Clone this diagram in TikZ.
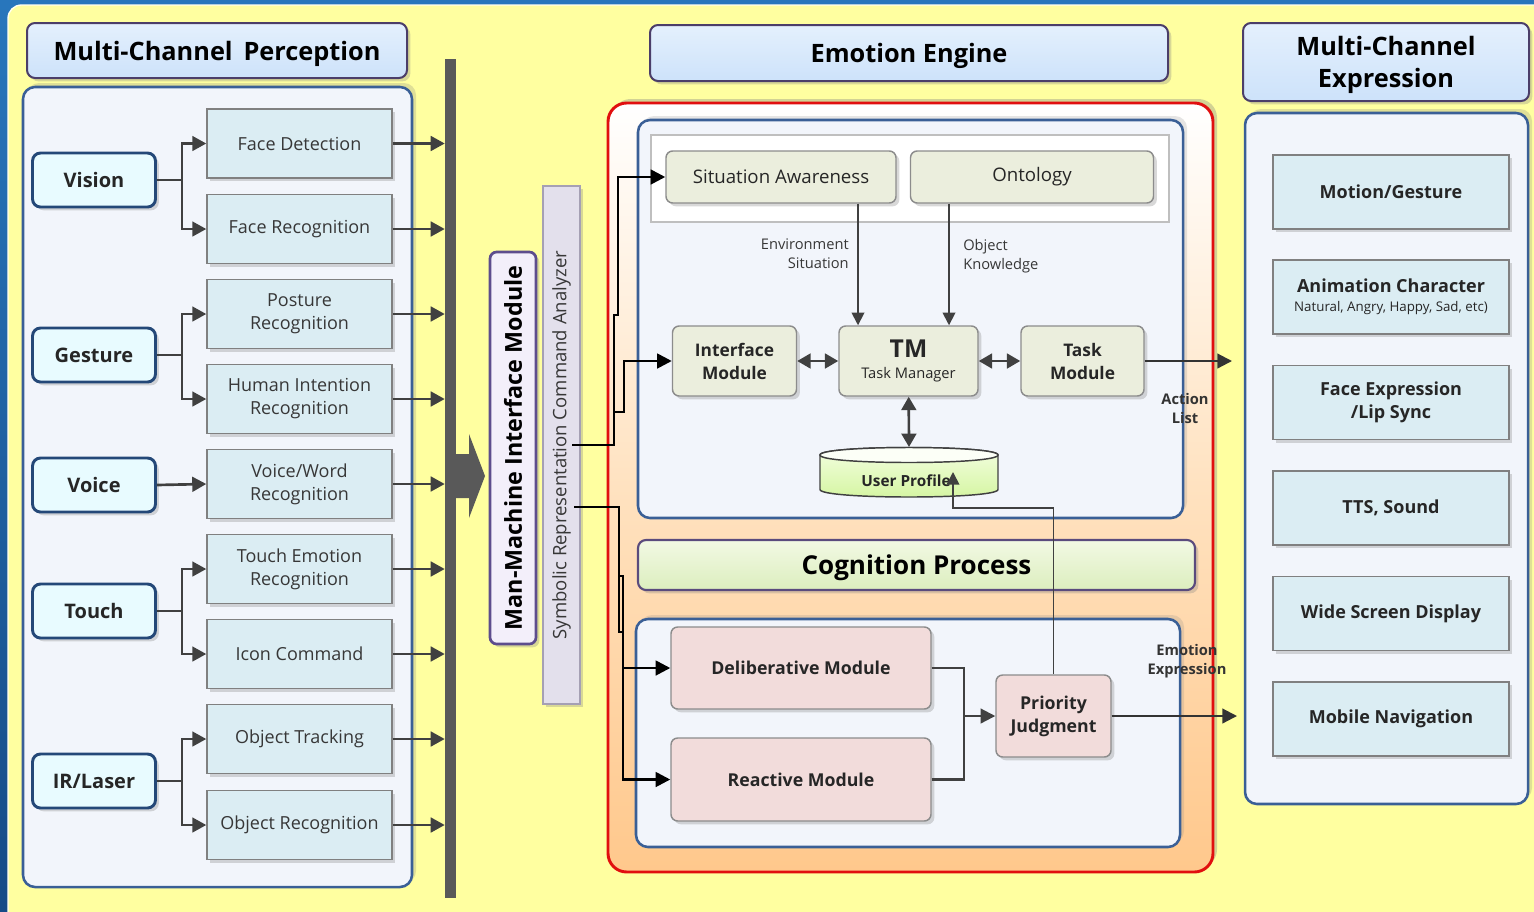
\documentclass[tikz,border=0pt]{standalone}
\usepackage{fontspec}
\setmainfont{Open Sans}
\usepackage{tikz}
\usetikzlibrary{arrows.meta,shadows}

\definecolor{frameblue}{RGB}{40,118,188}
\definecolor{framedark}{RGB}{22,75,135}
\definecolor{bgyellow}{RGB}{255,255,160}
\definecolor{panelfill}{RGB}{242,245,251}
\definecolor{panelline}{RGB}{58,95,150}
\definecolor{titlefill}{RGB}{205,226,250}
\definecolor{titletop}{RGB}{228,240,253}
\definecolor{titleline}{RGB}{75,62,105}
\definecolor{srcfill}{RGB}{232,251,255}
\definecolor{srcline}{RGB}{36,72,120}
\definecolor{recfill}{RGB}{219,237,243}
\definecolor{recline}{RGB}{128,128,128}
\definecolor{connline}{RGB}{64,64,64}
\definecolor{busgray}{RGB}{89,89,89}
\definecolor{mmifill}{RGB}{243,239,250}
\definecolor{mmiline}{RGB}{93,77,141}
\definecolor{symfill}{RGB}{227,224,236}
\definecolor{symline}{RGB}{165,160,180}
\definecolor{enginered}{RGB}{225,15,15}
\definecolor{engpeach}{RGB}{255,226,192}
\definecolor{engorange}{RGB}{255,200,140}
\definecolor{modfill}{RGB}{235,238,221}
\definecolor{modline}{RGB}{140,140,140}
\definecolor{pinkfill}{RGB}{242,220,219}
\definecolor{cogtop}{RGB}{242,249,228}
\definecolor{cogfill}{RGB}{220,238,190}
\definecolor{cogline}{RGB}{90,75,125}
\definecolor{uptopcol}{RGB}{245,255,228}
\definecolor{upfill}{RGB}{212,245,160}
\definecolor{txtgray}{RGB}{55,55,55}

\newcommand{\fntTitle}{\fontsize{19}{24}\selectfont\bfseries}
\newcommand{\fntEng}{\fontsize{19}{22}\selectfont\bfseries}
\newcommand{\fntSrc}{\fontsize{15}{18}\selectfont\bfseries}
\newcommand{\fntRec}{\fontsize{13.5}{17.25}\selectfont}
\newcommand{\fntMod}{\fontsize{13}{17.25}\selectfont\bfseries}
\newcommand{\fntOut}{\fontsize{13.5}{17.25}\selectfont\bfseries}
\newcommand{\fntLbl}{\fontsize{11}{14.25}\selectfont}
\newcommand{\fntBLbl}{\fontsize{11}{14.25}\selectfont\bfseries}
\newcommand{\fntSmall}{\fontsize{10}{12}\selectfont\mdseries}

\begin{document}
\begin{tikzpicture}[x=0.75pt,y=0.75pt,yscale=-1,xscale=1,
    softshadow/.style={drop shadow={shadow xshift=2.5pt,shadow yshift=-2.5pt,opacity=0.3}},
    titlebox/.style={draw=titleline,line width=1.5pt,rounded corners=6pt,top color=titletop,bottom color=titlefill,align=center,font=\fntTitle,text depth=0pt,softshadow},
    panel/.style={draw=panelline,line width=1.9pt,fill=panelfill,rounded corners=9pt},
    srcbox/.style={draw=srcline,line width=2.2pt,fill=srcfill,rounded corners=6pt,minimum width=92.25pt,minimum height=40.5pt,inner sep=0pt,font=\fntSrc,text=black!85,softshadow},
    recbox/.style={draw=recline,line width=1.1pt,fill=recfill,minimum width=138.75pt,minimum height=51.75pt,inner sep=0pt,align=center,font=\fntRec,text=txtgray,softshadow},
    outbox/.style={draw=recline,line width=1.1pt,fill=recfill,minimum width=177pt,minimum height=55.5pt,inner sep=0pt,align=center,font=\fntOut,text=black!85,softshadow},
    modbox/.style={draw=modline,line width=1.1pt,fill=modfill,rounded corners=5pt,minimum height=52.5pt,inner sep=0pt,align=center,font=\fntMod,text=black!85,softshadow},
    pinkbox/.style={modbox,fill=pinkfill},
    branch/.style={draw=connline,line width=2pt,-{Triangle[length=10.5pt,width=11pt]}},
    dblarrow/.style={draw=connline,line width=2pt,{Triangle[length=10pt,width=11pt]}-{Triangle[length=10pt,width=11pt]}},
    thinarrow/.style={draw=connline,line width=1.3pt,-{Triangle[length=9.5pt,width=9.5pt]}},
    symarrow/.style={draw=black,line width=2pt,-{Triangle[length=11pt,width=11pt]}},
    outarrow/.style={draw=black!80,line width=1.6pt,-{Triangle[length=11pt,width=11pt]}},
    lbl/.style={font=\fntLbl,text=txtgray,inner sep=0pt},
    boldlbl/.style={font=\fntBLbl,text=black!80,align=center,inner sep=0pt}]

    \useasboundingbox (0,0) rectangle (1534,911);

    %Shape: Background [id:frame]
    \shade[top color=frameblue,bottom color=framedark] (0,0) rectangle (1534,911);
    \draw[fill=bgyellow,draw=white!85!bgyellow,line width=1pt,rounded corners=10pt] (8,5) rectangle (1560,930);

    %Shape: Rectangle [id:panels]
    \draw[panel,drop shadow={shadow xshift=3pt,shadow yshift=3pt,opacity=0.25}] (23,87) rectangle (412,887);
    \draw[panel,drop shadow={shadow xshift=3pt,shadow yshift=3pt,opacity=0.25}] (1245,113) rectangle (1528,804);

    % Text Node
    \node[titlebox,minimum width=285pt,minimum height=41.25pt] (pertitle) at (217,50.5) {Multi-Channel\ \,Perception};
    \node[titlebox,font=\fntEng,minimum width=388.5pt,minimum height=42pt] (engtitle) at (909,53) {Emotion Engine};
    \node[titlebox,minimum width=214.5pt,minimum height=58.5pt] (exptitle) at (1386,62) {Multi-Channel\\Expression};

    % Text Node
    \node[srcbox] (vision) at (94,180) {Vision};
    \node[srcbox] (gesture) at (94,355) {Gesture};
    \node[srcbox] (voice) at (94,485) {Voice};
    \node[srcbox] (touch) at (94,611) {Touch};
    \node[srcbox] (irlaser) at (94,781) {IR/Laser};

    % Text Node
    \node[recbox] (facedet) at (299.5,143.5) {Face Detection};
    \node[recbox] (facerec) at (299.5,229) {Face Recognition};
    \node[recbox] (posture) at (299.5,314) {Posture\\Recognition};
    \node[recbox] (intention) at (299.5,399) {Human Intention\\Recognition};
    \node[recbox] (voiceword) at (299.5,484) {Voice/Word\\Recognition};
    \node[recbox] (touchemo) at (299.5,569) {Touch Emotion\\Recognition};
    \node[recbox] (iconcmd) at (299.5,654) {Icon Command};
    \node[recbox] (objtrack) at (299.5,739) {Object Tracking};
    \node[recbox] (objrec) at (299.5,825) {Object Recognition};

    %Shape: Bus bar and big arrow
    \node[fill=busgray,minimum width=8.25pt,minimum height=629.25pt,inner sep=0pt] (bus) at (450.5,478.5) {};
    \fill[busgray] (456,454) -- (469,454) -- (469,434) -- (485,476) -- (469,518) -- (469,498) -- (456,498) -- cycle;

    % Connectors: sensors to recognisers
    \draw[branch] (vision.east) -- ++(25,0) |- (facedet.west);
    \draw[branch] (vision.east) -- ++(25,0) |- (facerec.west);
    \draw[branch] (gesture.east) -- ++(25,0) |- (posture.west);
    \draw[branch] (gesture.east) -- ++(25,0) |- (intention.west);
    \draw[branch] (voice.east) -- (voiceword.west);
    \draw[branch] (touch.east) -- ++(25,0) |- (touchemo.west);
    \draw[branch] (touch.east) -- ++(25,0) |- (iconcmd.west);
    \draw[branch] (irlaser.east) -- ++(25,0) |- (objtrack.west);
    \draw[branch] (irlaser.east) -- ++(25,0) |- (objrec.west);

    % Connectors: recognisers to bus
    \draw[branch] (facedet.east) -- (facedet.east -| bus.west);
    \draw[branch] (facerec.east) -- (facerec.east -| bus.west);
    \draw[branch] (posture.east) -- (posture.east -| bus.west);
    \draw[branch] (intention.east) -- (intention.east -| bus.west);
    \draw[branch] (voiceword.east) -- (voiceword.east -| bus.west);
    \draw[branch] (touchemo.east) -- (touchemo.east -| bus.west);
    \draw[branch] (iconcmd.east) -- (iconcmd.east -| bus.west);
    \draw[branch] (objtrack.east) -- (objtrack.east -| bus.west);
    \draw[branch] (objrec.east) -- (objrec.east -| bus.west);

    % Text Node (vertical)
    \node[rotate=90,draw=mmiline,line width=2pt,fill=mmifill,rounded corners=5pt,minimum width=294pt,minimum height=34.5pt,inner sep=0pt,font=\fontsize{17.5}{18}\selectfont\bfseries,softshadow] (mmi) at (513,448) {Man-Machine Interface Module};
    \node[rotate=90,draw=symline,line width=0.8pt,fill=symfill,minimum width=388.5pt,minimum height=27.75pt,inner sep=0pt,font=\fontsize{13.9}{16}\selectfont,text=txtgray,softshadow] (symb) at (561.5,445) {Symbolic Representation Command Analyzer};

    %Shape: Emotion engine frame
    \draw[draw=enginered,line width=2.2pt,rounded corners=14pt,top color=white,bottom color=engorange,middle color=engpeach,drop shadow={shadow xshift=3pt,shadow yshift=3pt,opacity=0.35}] (608,103) rectangle (1213,872);
    \draw[panel,drop shadow={shadow xshift=3pt,shadow yshift=3pt,opacity=0.2}] (638,120) rectangle (1183,518);
    \draw[fill=white,draw=black!25,line width=0.8pt] (651,135) rectangle (1169,222);
    \draw[panel,drop shadow={shadow xshift=3pt,shadow yshift=3pt,opacity=0.2}] (636,619) rectangle (1180,847);

    % Text Node
    \node[modbox,font=\fontsize{14}{17}\selectfont,minimum width=172.5pt,minimum height=39pt] (sitaware) at (781,177) {Situation Awareness};
    \node[modbox,font=\fontsize{14}{17}\selectfont,minimum width=182.25pt,minimum height=39pt] (ontology) at (1032,177) {Ontology};
    \node[modbox,minimum width=93pt] (ifmod) at (734.5,361) {Interface\\Module};
    \node[modbox,minimum width=104.25pt] (tm) at (908.5,361) {{\fontsize{18.5}{18}\selectfont TM}\\[-1pt]{\fontsize{11}{14}\selectfont\mdseries Task Manager}};
    \node[modbox,minimum width=92.25pt] (taskmod) at (1082.5,361) {Task\\Module};

    % Text Node
    \node[lbl,align=right,anchor=east] (envlbl) at (849,254) {Environment\\Situation};
    \node[lbl,align=left,anchor=west] (objlbl) at (963,256) {Object\\Knowledge};

    %Shape: User profile cylinder
    \draw[draw=connline,line width=1.1pt,top color=uptopcol,bottom color=upfill] (820,455) -- (820,489.5) .. controls (820,499.5) and (998,499.5) .. (998,489.5) -- (998,455) .. controls (998,445) and (820,445) .. (820,455) -- cycle;
    \draw[draw=connline,line width=1.1pt,fill=white!70!uptopcol] (820,455) .. controls (820,445) and (998,445) .. (998,455) .. controls (998,465) and (820,465) .. (820,455) -- cycle;
    \node[font=\fontsize{11.5}{14}\selectfont\bfseries,text=black!85,inner sep=0pt] (userprof) at (906,481) {User Profile};
    \coordinate (uptop) at (909,447);

    % Connectors in the task part
    \coordinate (envx) at (858,0);
    \coordinate (objx) at (949,0);
    \draw[thinarrow] (envx |- sitaware.south) -- (envx |- tm.north);
    \draw[thinarrow] (objx |- ontology.south) -- (objx |- tm.north);
    \draw[dblarrow] (ifmod) -- (tm);
    \draw[dblarrow] (tm) -- (taskmod);
    \draw[dblarrow] (tm) -- (uptop);
    \coordinate (actout) at (1232,361);
    \draw[outarrow] (taskmod) -- (actout);
    \node[boldlbl] (actlbl) at (1185,408) {Action\\List};

    % Text Node
    \node[draw=cogline,line width=1.6pt,rounded corners=6pt,top color=cogtop,bottom color=cogfill,minimum width=417.75pt,minimum height=37.5pt,font=\fontsize{19.5}{22}\selectfont\bfseries,text depth=0pt,softshadow] (cognition) at (916.5,565) {Cognition Process};

    % Text Node
    \node[pinkbox,font=\fontsize{13.3}{17.25}\selectfont\bfseries,minimum width=195pt,minimum height=61.5pt] (delib) at (801,668) {Deliberative Module};
    \node[pinkbox,font=\fontsize{13.3}{17.25}\selectfont\bfseries,minimum width=195pt,minimum height=62.25pt] (reactive) at (801,779.5) {Reactive Module};
    \node[pinkbox,font=\fontsize{13.3}{17.25}\selectfont\bfseries,minimum width=86.25pt,minimum height=61.5pt] (priority) at (1053.5,716) {Priority\\Judgment};

    % Connectors in the cognition part
    \coordinate (merge) at (964,716);
    \draw[draw=connline,line width=1.6pt] (delib.east) -| (merge);
    \draw[draw=connline,line width=1.6pt] (reactive.east) -| (merge);
    \draw[draw=connline,line width=1.6pt,-{Triangle[length=11pt,width=11pt]}] (merge) -- (priority.west);
    \coordinate (upbend) at (953,508);
    \coordinate (upin) at (953,472);
    \draw[thinarrow] (priority.north) |- (upbend) -- (upin);
    \coordinate (emout) at (1237,716);
    \draw[outarrow] (priority) -- (emout);
    \node[boldlbl] (emolbl) at (1187,661) {Emotion\\Expression};

    % Connectors from the analyser
    \coordinate (sym1) at (572,445);
    \coordinate (sym2) at (574,507);
    \coordinate (symj) at (614,412);
    \draw[symarrow] (sym1) -- ++(42,0) -- ++(0,-130) -- ++(4,0) |- (sitaware.west);
    \draw[symarrow] (symj) -- ++(10,0) |- (ifmod.west);
    \draw[symarrow] (sym2) -- ++(45,0) -- ++(0,69) -- ++(4,0) |- (delib.west);
    \draw[symarrow] (sym2) -- ++(45,0) -- ++(0,125) -- ++(4,0) |- (reactive.west);

    % Text Node
    \node[outbox] (motion) at (1391,192) {Motion/Gesture};
    \node[outbox] (anim) at (1391,297) {Animation Character\\[-3pt]{\fntSmall Natural, Angry, Happy, Sad, etc)}};
    \node[outbox] (faceexp) at (1391,402.5) {Face Expression\\/Lip Sync};
    \node[outbox] (tts) at (1391,508) {TTS, Sound};
    \node[outbox] (widescreen) at (1391,613.5) {Wide Screen Display};
    \node[outbox] (mobile) at (1391,719) {Mobile Navigation};

\end{tikzpicture}
\end{document}
